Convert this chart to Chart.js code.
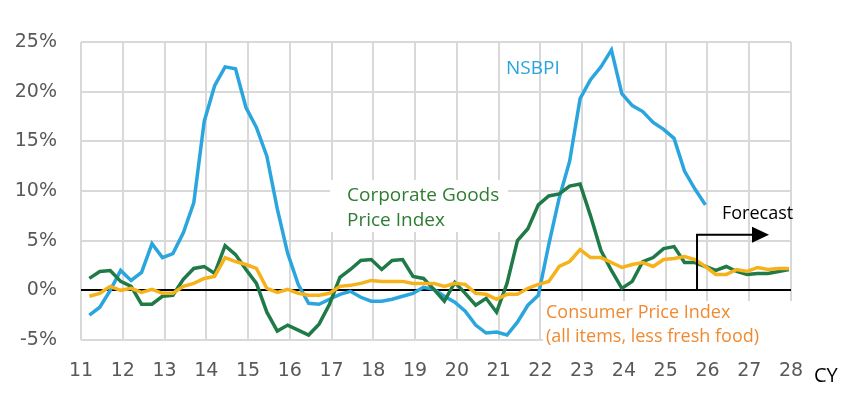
<!DOCTYPE html>
<html><head><meta charset="utf-8">
<script src="https://cdn.jsdelivr.net/npm/chart.js@4"></script>
<style>html,body{margin:0;padding:0;background:#fff}#w{width:850px;height:405px}</style>
</head><body><div id="w"><canvas id="c"></canvas></div>
<script>
const startYear = 11.2, step = 0.25;
const nsbpi = [-2.5,-1.7,0,2.0,1.0,1.8,4.7,3.3, 3.7,5.8,8.8,17,20.6,22.5,22.3,18.4, 16.4,13.5,8.2,3.7,0.6,-1.3,-1.4,-0.9, -0.4,-0.1,-0.7,-1.1,-1.1,-0.9,-0.6,-0.3, 0.3,0.1,-0.6,-1.2, -2.1,-3.5,-4.3,-4.2,-4.5,-3.2,-1.5,-0.5, 4.6,9.3,13,19.3,21.2,22.5,24.2,19.8, 18.6,18.0,16.9,16.2,15.3,12,10.2,8.6];
const cgpi = [1.2,1.9,2.0,0.9,0.4,-1.4,-1.4,-0.6, -0.5,1.1,2.2,2.4,1.7,4.5,3.6,2.1, 0.7,-2.2,-4.1,-3.5,-4.0,-4.5,-3.4,-1.4, 1.3,2.1,3.0,3.1,2.1,3.0,3.1,1.4, 1.2,0.1,-1.1,0.8, -0.3,-1.5,-0.8,-2.2,0.7,5.0,6.2,8.6, 9.5,9.7,10.5,10.7,7.5,4.0,2.0,0.2, 0.9,2.9,3.3,4.2,4.4,2.8,2.8,2.4, 2.0,2.4,1.9,1.6,1.7,1.7,1.9,2.1];
const cpi = [-0.6,-0.3,0.4,0.0,0.2,-0.2,0.1,-0.3, -0.3,0.4,0.7,1.2,1.4,3.3,2.9,2.6, 2.2,0.2,-0.2,0.1,-0.3,-0.5,-0.5,-0.3, 0.4,0.5,0.7,1.0,0.9,0.9,0.9,0.7, 0.7,0.7,0.4,0.7, 0.6,-0.3,-0.4,-0.9,-0.4,-0.4,0.2,0.6, 0.9,2.4,2.9,4.1,3.3,3.3,2.8,2.3, 2.6,2.8,2.4,3.1,3.2,3.4,3.1,2.4, 1.6,1.6,2.1,1.9,2.3,2.1,2.2,2.2];
const yTicks = [-5,0,5,10,15,20,25];
const xYears = [11,12,13,14,15,16,17,18,19,20,21,22,23,24,25,26,27,28];
const forecastStart = 25.75;

const pts = a => a.map((v,i)=>({x:startYear+step*i,y:v}));
const FONT = '"DejaVu Sans", Verdana, sans-serif';
const FONT2 = '"Open Sans", "Noto Sans", sans-serif';

const annot = {
  id:'annot',
  afterDraw(ch){
    const c=ch.ctx, xs=ch.scales.x, ys=ch.scales.y;
    c.save();
    c.fillStyle='#fff';
    c.fillRect(330,180,178,52);
    c.fillRect(543,301,270,48);
    c.textBaseline='middle'; c.textAlign='left';
    c.font='19px '+FONT2;
    c.fillStyle='#2e7d32';
    c.fillText('Corporate Goods',347,196);
    c.fillText('Price Index',347,221);
    c.fillStyle='#29a3dd';
    c.fillText('NSBPI',506,69);
    c.font='18px '+FONT2;
    c.fillStyle='#f08a30';
    c.fillText('Consumer Price Index',546,313);
    c.fillText('(all items, less fresh food)',546,337);
    c.fillStyle='#000';
    c.fillText('Forecast',722,214);
    c.font='20px '+FONT2;
    c.fillText('CY',814,376);
    const x0=xs.getPixelForValue(forecastStart), yb=ys.getPixelForValue(0), yt=ys.getPixelForValue(5.6);
    c.strokeStyle='#000'; c.lineWidth=2;
    c.beginPath(); c.moveTo(x0,yb); c.lineTo(x0,yt); c.lineTo(x0+57,yt); c.stroke();
    c.beginPath(); c.moveTo(x0+55,yt-8); c.lineTo(x0+72,yt); c.lineTo(x0+55,yt+8); c.closePath(); c.fill();
    c.restore();
  }
};

new Chart(document.getElementById('c'),{
  type:'line',
  data:{datasets:[
    {label:'CPI',data:pts(cpi),borderColor:'#f6b21a',borderWidth:3.5,pointRadius:0,tension:0},
    {label:'CGPI',data:pts(cgpi),borderColor:'#1f7a47',borderWidth:3.5,pointRadius:0,tension:0},
    {label:'NSBPI',data:pts(nsbpi),borderColor:'#2aa5de',borderWidth:3.5,pointRadius:0,tension:0}
  ]},
  options:{
    responsive:true,maintainAspectRatio:false,animation:false,
    layout:{padding:{left:0,right:59,top:42,bottom:10}},
    plugins:{legend:{display:false},tooltip:{enabled:false}},
    scales:{
      x:{type:'linear',min:11,max:28,
        afterBuildTicks(s){s.ticks=xYears.map(v=>({value:v}));},
        afterFit(s){s.height=55;},
        ticks:{font:{size:19,family:FONT},color:'#595959',padding:20,callback:v=>String(v)},
        grid:{color:'#d9d9d9',lineWidth:2,drawTicks:false},border:{display:false}},
      y:{min:-5,max:25,
        afterBuildTicks(s){s.ticks=yTicks.map(v=>({value:v}));},
        afterFit(s){s.width=81;},
        ticks:{font:{size:19,family:FONT},color:'#595959',padding:24,callback:v=>v+'%'},
        grid:{color:c=>c.tick&&c.tick.value===0?'#000':'#d9d9d9',lineWidth:2,drawTicks:false},border:{display:false}}
    }
  },
  plugins:[annot]
});
</script></body></html>
